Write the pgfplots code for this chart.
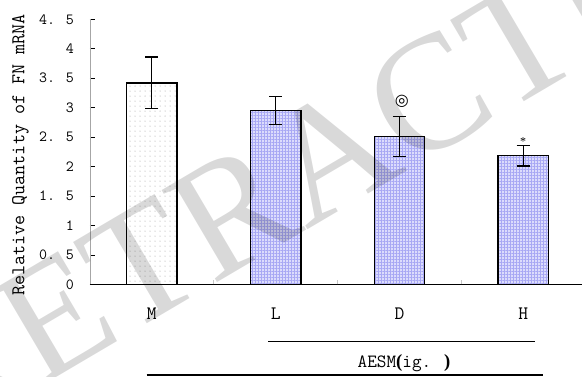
\documentclass[border=0pt]{standalone}
\usepackage{pgfplots}
\pgfplotsset{compat=1.18}
\usepackage{fontspec}
\newfontfamily\wmfont{Liberation Serif}
\newfontfamily\symfont{DejaVu Sans}
\usetikzlibrary{patterns.meta}
\definecolor{barblue}{RGB}{220,220,252}
\definecolor{hatchblue}{RGB}{168,168,244}
\begin{document}
\begin{tikzpicture}[x=1pt,y=1pt]
\path[use as bounding box] (0,0) rectangle (582,-376);
\begin{axis}[
  at={(90pt,-284.3pt)}, anchor=south west,
  width=492pt, height=265pt, scale only axis,
  xmin=-0.5, xmax=3.475, ymin=0, ymax=4.5,
  axis x line=bottom, axis y line=left, axis line style={-},
  x axis line style={line width=1pt, black},
  y axis line style={line width=0.5pt, gray!70},
  tick align=inside,
  ytick={0,0.5,...,4.5},
  yticklabels={0,0. 5,1,1. 5,2,2. 5,3,3. 5,4,4. 5},
  ytick style={black, line width=0.6pt},
  major tick length=5pt,
  yticklabel style={font=\ttfamily\fontsize{15.5}{15.5}\selectfont, anchor=east, inner sep=0pt, xshift=-16pt},
  xtick={0,1,2,3}, xticklabels={M,L,D,H},
  xticklabel style={font=\ttfamily\fontsize{19}{19}\selectfont, anchor=center, inner sep=0pt, yshift=-29pt},
  xtick style={draw=none},
  extra x ticks={0.5,1.5,2.5}, extra x tick labels={},
  extra x tick style={xtick style={draw=gray!45, line width=0.6pt}, major tick length=4pt},
  ylabel={Relative Quantity of FN mRNA},
  ylabel style={font=\ttfamily\fontsize{19.5}{19.5}\selectfont, at={(axis description cs:-0.1415,0.488)}, anchor=center, inner sep=0pt},
  clip=false,
]
\addplot[ybar, bar width=50.5pt, bar shift=0pt, draw=black, line width=1.3pt, fill=white,
  postaction={pattern={Dots[distance=5pt, radius=0.5pt]}, pattern color=gray!80},
  error bars/.cd, y dir=both, y explicit,
  error bar style={line width=1.2pt, black},
  error mark options={rotate=90, mark size=6.5pt, line width=1.2pt, black}]
  coordinates {(0,3.42) +- (0,0.44)};
\addplot[ybar, bar width=50.5pt, bar shift=0pt, draw=black, line width=1.3pt, fill=barblue,
  postaction={pattern={Hatch[distance=3pt, line width=0.5pt, angle=0]}, pattern color=hatchblue},
  error bars/.cd, y dir=both, y explicit,
  error bar style={line width=1.2pt, black},
  error mark options={rotate=90, mark size=6.5pt, line width=1.2pt, black}]
  coordinates {(1,2.955) +- (0,0.24) (2,2.51) +- (0,0.34) (3,2.185) +- (0,0.175)};
\node[font=\symfont\fontsize{16}{16}\selectfont, inner sep=0pt] at (axis cs:2.02,3.10) {◎};
\node[font=\wmfont\fontsize{12}{12}\selectfont, inner sep=0pt, anchor=base, yshift=-6pt] at (axis cs:3.0,2.46) {*};
\end{axis}
\draw[line width=1.4pt] (268,-341.7) -- (534.5,-341.7);
\node[font=\ttfamily\fontsize{18.7}{18.7}\selectfont, inner sep=0pt] at (404,-363) {AESM{\wmfont\bfseries(}ig. {\wmfont\bfseries)}};
\draw[line width=1.5pt] (146.6,-375) -- (542.6,-375);
\node[rotate=30.5, font=\wmfont\fontsize{164}{164}\selectfont, text=black, text opacity=0.15, inner sep=0pt] at (334,-152) {RETRACTED};
\end{tikzpicture}
\end{document}
